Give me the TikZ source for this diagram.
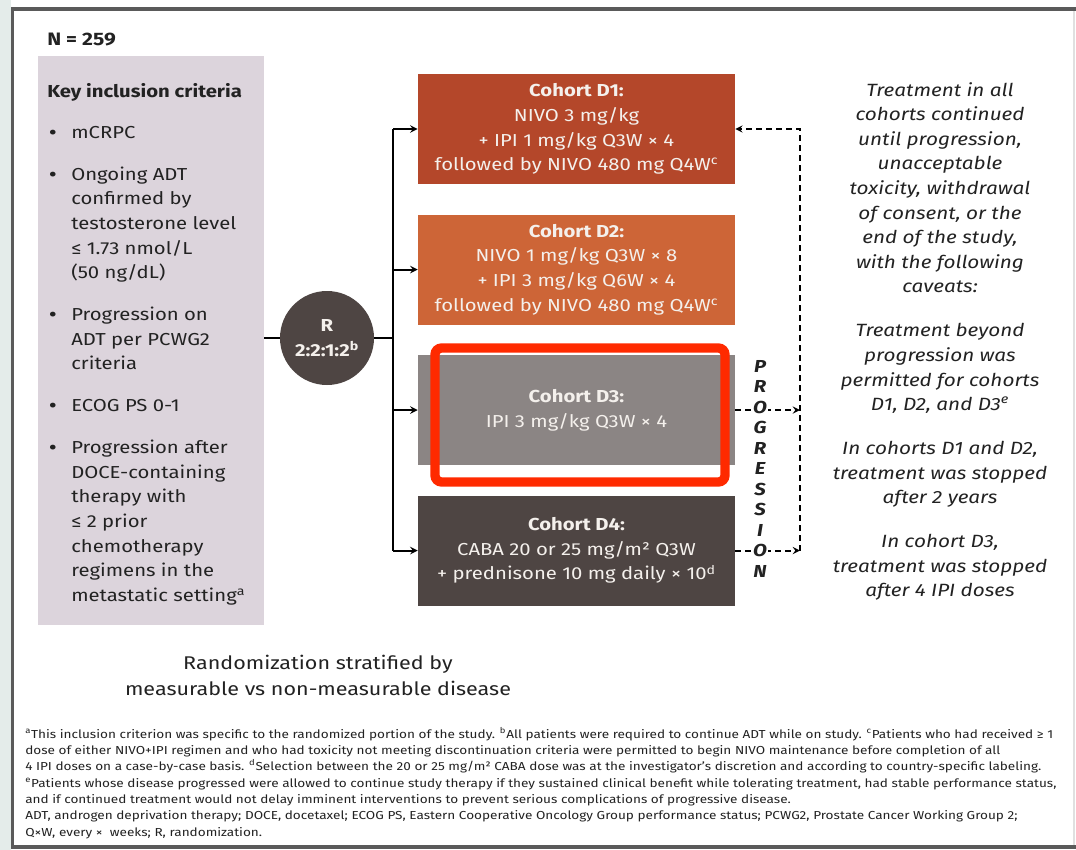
\documentclass[tikz,border=0pt]{standalone}
\usepackage{fontspec}
\setmainfont{Fira Sans}[FakeStretch=1.17]
\usetikzlibrary{arrows,
  positioning
}
\definecolor{cohortone}{HTML}{B4472A}
\definecolor{cohorttwo}{HTML}{CD6537}
\definecolor{cohortthree}{HTML}{8B8584}
\definecolor{cohortfour}{HTML}{4E4543}
\definecolor{critgray}{HTML}{DCD4DC}
\definecolor{boxtext}{HTML}{F4F0EC}
\definecolor{inktext}{HTML}{222222}
\definecolor{framegray}{HTML}{5A5A5A}
\definecolor{markred}{HTML}{FF2A00}
\definecolor{sidestrip}{HTML}{E4ECEA}

\newcommand{\bodysize}{\fontsize{13}{18.45}\selectfont}
\newcommand{\footsize}{\fontsize{8.7}{12.2}\selectfont}
\newcommand{\critdot}{\hspace{1.5pt}\textbf{•}}

\tikzstyle{cohort} = [rectangle, minimum width=237.75pt, minimum height=82.5pt,
  inner sep=0, align=center, text=boxtext, font=\bodysize]
\tikzstyle{plaintext} = [inner sep=0, text=inktext, font=\bodysize]
\tikzstyle{progletter} = [inner sep=0.6pt, fill=white, text=inktext,
  font=\bodysize\bfseries\itshape]
\tikzstyle{solidarrow} = [line width=1.5pt, ->, >=stealth]
\tikzstyle{dasharrow} = [line width=1.4pt, dash pattern=on 4pt off 3.5pt, ->, >=stealth]

\begin{document}
\begin{tikzpicture}[x=0.75pt, y=-0.75pt]
  \useasboundingbox (0,0) rectangle (1076,850);
  \fill[white] (0,0) rectangle (1076,850);
  \fill[sidestrip] (0,0) rectangle (11,850);
  \draw[black!12, line width=0.8pt] (1074,9) -- (1074,847);
  \draw[framegray, line width=2.3pt] (1076,9) -- (12.5,9) -- (12.5,847) -- (1076,847);

  % criteria
  \node[plaintext, anchor=west, font=\fontsize{13.5}{16}\selectfont\bfseries] (ntotal) at (47,40) {N = 259};
  \node[rectangle, fill=critgray, minimum width=169.5pt, minimum height=426.75pt,
    inner sep=0] (crit) at (151,340.5) {};
  \node[plaintext, anchor=north west] (critlist) at (47,80) {%
    \begin{tabular}{@{}p{18pt}@{}l@{}}
      \multicolumn{2}{@{}l@{}}{\bfseries Key inclusion criteria}\\[12.25pt]
      \critdot & mCRPC\\[13pt]
      \critdot & Ongoing ADT\\
        & confirmed by\\
        & testosterone level\\
        & ≤ 1.73 nmol/L\\
        & (50 ng/dL)\\[13pt]
      \critdot & Progression on\\
        & ADT per PCWG2\\
        & criteria\\[13pt]
      \critdot & ECOG PS 0-1\\[13pt]
      \critdot & Progression after\\
        & DOCE-containing\\
        & therapy with\\
        & ≤ 2 prior\\
        & chemotherapy\\
        & regimens in the\\
        & metastatic setting\textsuperscript{a}
    \end{tabular}};

  % randomization
  \node[circle, fill=cohortfour, minimum size=70.5pt, inner sep=0, align=center,
    text=boxtext, font=\bodysize\bfseries] (rand) at (327,338) {R\\2:2:1:2\textsuperscript{b}};
  \draw[line width=1.5pt] (crit.east |- rand.west) -- (rand.west);

  % cohorts
  \node[cohort, fill=cohortone] (d1) at (576.5,129)
    {\textbf{Cohort D1:}\\NIVO 3 mg/kg\\+ IPI 1 mg/kg Q3W × 4\\followed by NIVO 480 mg Q4W\textsuperscript{c}};
  \node[cohort, fill=cohorttwo, below=22.5pt of d1] (d2)
    {\textbf{Cohort D2:}\\NIVO 1 mg/kg Q3W × 8\\+ IPI 3 mg/kg Q6W × 4\\followed by NIVO 480 mg Q4W\textsuperscript{c}};
  \node[cohort, fill=cohortthree, below=22.5pt of d2] (d3)
    {\textbf{Cohort D3:}\\IPI 3 mg/kg Q3W × 4};
  \node[cohort, fill=cohortfour, below=22.5pt of d3] (d4)
    {\textbf{Cohort D4:}\\CABA 20 or 25 mg/m² Q3W\\+ prednisone 10 mg daily × 10\textsuperscript{d}};

  \coordinate (split) at (393,338);
  \draw[line width=1.5pt] (rand.east) -- (split);
  \draw[line width=1.5pt] (split |- d1.west) -- (split |- d4.west);
  \foreach \c in {d1,d2,d3,d4} {
    \draw[solidarrow] (split |- \c.west) -- (\c.west);
  }

  % progression loop
  \coordinate (back) at (800,338);
  \draw[dasharrow] (d3.east) -- (back |- d3.east);
  \draw[dasharrow] (d4.east) -- (back |- d4.east);
  \draw[dasharrow] (back |- d4.east) -- (back |- d1.east) -- (d1.east);
  \foreach \ch [count=\i] in {P,R,O,G,R,E,S,S,I,O,N} {
    \node[progletter] (prog\i) at (760,{366+20.5*(\i-1)}) {\ch};
  }

  % highlight
  \draw[markred, line width=7pt, rounded corners=5pt] (435,348) rectangle (725,482);

  % caveats
  \node[plaintext, anchor=north, align=center, font=\fontsize{13.3}{18.45}\selectfont\itshape] (caveat) at (940,82)
    {Treatment in all\\cohorts continued\\until progression,\\unacceptable\\toxicity, withdrawal\\
     of consent, or the\\end of the study,\\with the following\\caveats:\\[14.5pt]
     Treatment beyond\\progression was\\permitted for cohorts\\D1, D2, and D3\textsuperscript{e}\\[14.5pt]
     In cohorts D1 and D2,\\treatment was stopped\\after 2 years\\[14.5pt]
     In cohort D3,\\treatment was stopped\\after 4 IPI doses};

  % stratification
  \node[plaintext, align=center, font=\fontsize{13.8}{19.5}\selectfont] (strat) at (318,675)
    {Randomization stratified by\\measurable vs non-measurable disease};

  % footnotes
  \node[plaintext, anchor=north west, align=left, font=\footsize] (notes) at (25,727)
    {\textsuperscript{a}This inclusion criterion was specific to the randomized portion of the study. \textsuperscript{b}All patients were required to continue ADT while on study. \textsuperscript{c}Patients who had received ≥ 1\\
     dose of either NIVO+IPI regimen and who had toxicity not meeting discontinuation criteria were permitted to begin NIVO maintenance before completion of all\\
     4 IPI doses on a case-by-case basis. \textsuperscript{d}Selection between the 20 or 25 mg/m² CABA dose was at the investigator’s discretion and according to country-specific labeling.\\
     \textsuperscript{e}Patients whose disease progressed were allowed to continue study therapy if they sustained clinical benefit while tolerating treatment, had stable performance status,\\
     and if continued treatment would not delay imminent interventions to prevent serious complications of progressive disease.\\
     ADT, androgen deprivation therapy; DOCE, docetaxel; ECOG PS, Eastern Cooperative Oncology Group performance status; PCWG2, Prostate Cancer Working Group 2;\\
     Q×W, every ×\ \ weeks; R, randomization.};
\end{tikzpicture}
\end{document}
